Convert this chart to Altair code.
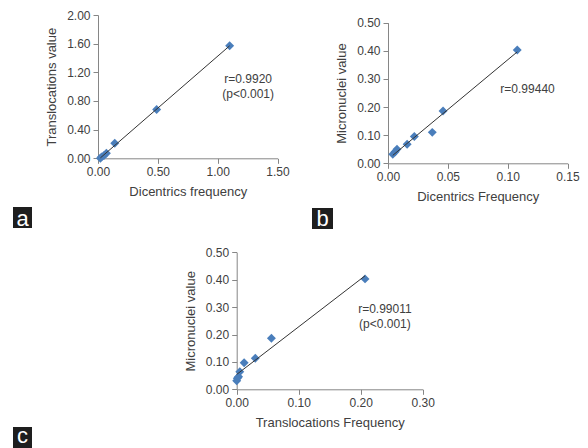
import altair as alt
import pandas as pd

# ---------- data ----------
a_dicentrics = [0.02, 0.03, 0.05, 0.07, 0.14, 0.49, 1.10]
a_translocations = [0.0, 0.02, 0.04, 0.07, 0.21, 0.68, 1.57]

b_dicentrics = [0.004, 0.006, 0.0075, 0.016, 0.022, 0.037, 0.046, 0.108]
b_micronuclei = [0.032, 0.041, 0.05, 0.068, 0.095, 0.11, 0.186, 0.403]

c_translocations = [0.0, 0.001, 0.003, 0.005, 0.012, 0.03, 0.056, 0.207]
c_micronuclei = [0.031, 0.04, 0.046, 0.064, 0.097, 0.113, 0.186, 0.403]

a_ticks_x = [0, 0.5, 1.0, 1.5]
a_ticks_y = [0, 0.4, 0.8, 1.2, 1.6, 2.0]
b_ticks_x = [0, 0.05, 0.10, 0.15]
b_ticks_y = [0, 0.1, 0.2, 0.3, 0.4, 0.5]
c_ticks_x = [0, 0.1, 0.2, 0.3]
c_ticks_y = [0, 0.1, 0.2, 0.3, 0.4, 0.5]

a_notes = ["r=0.9920", "(p<0.001)"]
b_notes = ["r=0.99440"]
c_notes = ["r=0.99011", "(p<0.001)"]

FONT = "Liberation Sans"
TXT = "#404040"
BLUE = "#4A7EBB"
W, H = 572, 440


def panel(xs, ys, xtitle, ytitle, xticks, yticks, notes, note_x, note_y0, note_dy,
          xrange_px, yrange_px):
    df = pd.DataFrame({"x": xs, "y": ys})
    xsc = alt.Scale(domain=[xticks[0], xticks[-1]], range=xrange_px, nice=False)
    ysc = alt.Scale(domain=[yticks[0], yticks[-1]], range=yrange_px, nice=False)
    common = dict(format=".2f", labelOverlap=False, labelFlush=False,
                  labelBound=False)
    xenc = alt.X("x:Q", scale=xsc,
                 axis=alt.Axis(values=xticks, title=xtitle, orient="bottom",
                               offset=yrange_px[0] - H, **common))
    yenc = alt.Y("y:Q", scale=ysc,
                 axis=alt.Axis(values=yticks, title=ytitle, orient="left",
                               offset=-xrange_px[0], **common))
    base = alt.Chart(df)
    pts = base.mark_point(shape="diamond", filled=True, size=80, color=BLUE,
                          opacity=1).encode(x=xenc, y=yenc)
    line = base.transform_regression("x", "y").mark_line(
        color="#333333", strokeWidth=1).encode(x=alt.X("x:Q"), y=alt.Y("y:Q"))
    ndf = pd.DataFrame({
        "t": notes,
        "nx": [note_x] * len(notes),
        "ny": [note_y0 - i * note_dy for i in range(len(notes))],
    })
    note = alt.Chart(ndf).mark_text(font=FONT, fontSize=12, color=TXT,
                                    align="center", baseline="middle").encode(
        x=alt.X("nx:Q"), y=alt.Y("ny:Q"), text="t:N")
    return alt.layer(pts, line, note)


def letter_box(letter, x0, x1, y0, y1, ty):
    one = alt.Chart(pd.DataFrame({"v": [0]}))
    rect = one.mark_rect(color="#1e1e1e").encode(
        x=alt.value(x0), x2=alt.value(x1), y=alt.value(y0), y2=alt.value(y1))
    lab = one.mark_text(font=FONT, fontSize=22, color="white", align="center",
                        baseline="alphabetic").encode(
        x=alt.value((x0 + x1) / 2), y=alt.value(ty), text=alt.value(letter))
    return alt.layer(rect, lab)


pa = panel(a_dicentrics, a_translocations, "Dicentrics frequency",
           "Translocations value", a_ticks_x, a_ticks_y, a_notes,
           1.255, 1.106, 0.207, [90, 269.5], [150.3, 7])
pb = panel(b_dicentrics, b_micronuclei, "Dicentrics Frequency",
           "Micronuclei value", b_ticks_x, b_ticks_y, b_notes,
           0.1166, 0.263, 0.05, [380, 559.5], [155.3, 14.7])
pc = panel(c_translocations, c_micronuclei, "Translocations Frequency",
           "Micronuclei value", c_ticks_x, c_ticks_y, c_notes,
           0.239, 0.293, 0.053, [228.7, 414.7], [381.3, 244.3])

chart = alt.layer(
    pa, pb, pc,
    letter_box("a", 5, 24, 199, 220, 218),
    letter_box("b", 304, 325, 200, 221, 218),
    letter_box("c", 5, 24, 419, 440, 435),
).resolve_scale(x="independent", y="independent").properties(
    width=W, height=H, padding=0,
    autosize=alt.AutoSizeParams(type="none"),
).configure_view(stroke=None).configure_axis(
    grid=False, labelOverlap=False, labelFlush=False,
    labelFont=FONT, labelFontSize=12, labelColor=TXT,
    titleFont=FONT, titleFontSize=13, titleFontWeight="normal", titleColor=TXT,
    domainColor="#868686", tickColor="#868686", tickSize=5,
    labelPadding=3, titlePadding=8,
)

chart.save("out.html", embed_options={"renderer": "svg", "actions": False})
